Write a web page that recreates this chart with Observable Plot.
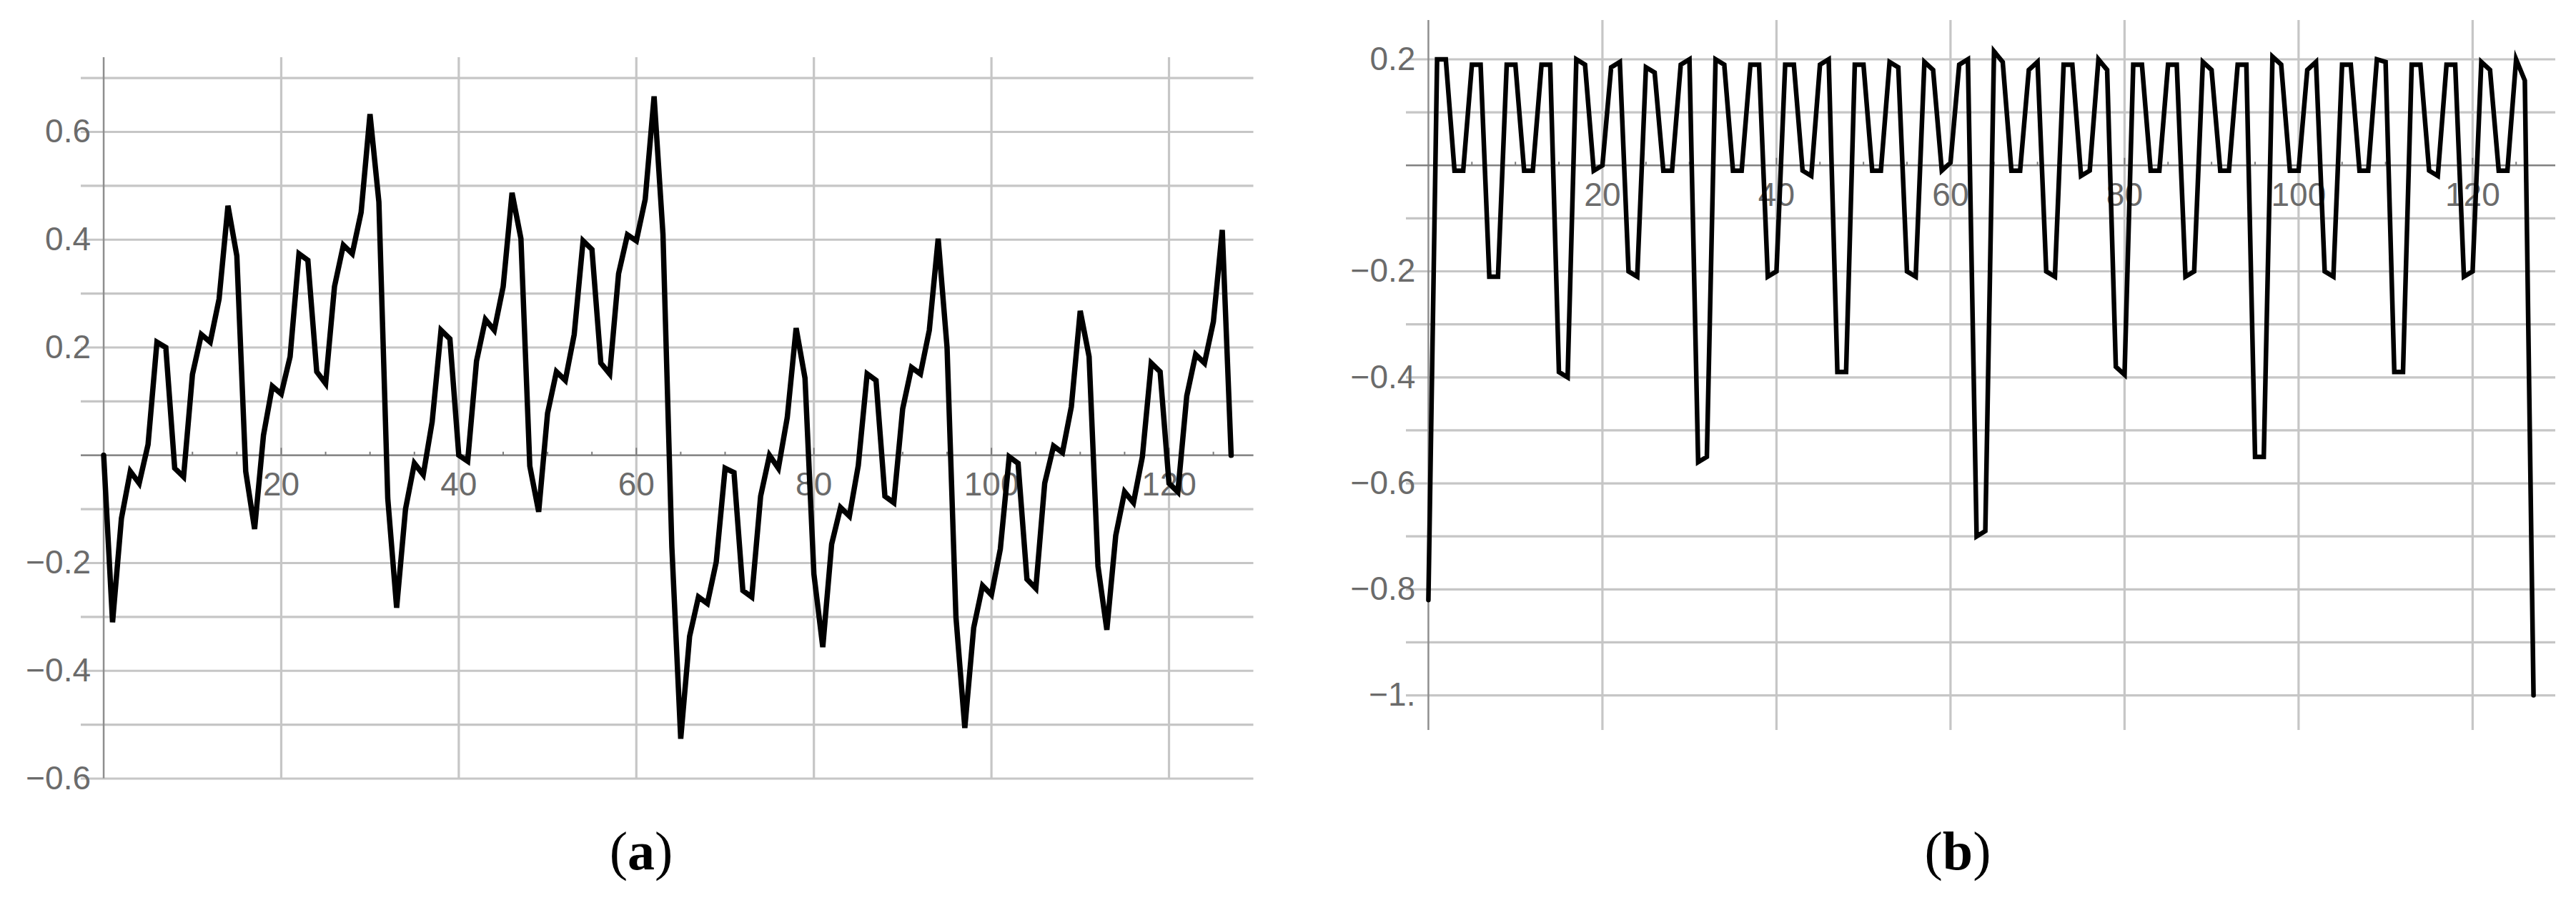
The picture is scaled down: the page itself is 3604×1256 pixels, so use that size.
<!DOCTYPE html>
<html>
<head>
<meta charset="utf-8">
<script src="https://cdn.jsdelivr.net/npm/d3@7"></script>
<script src="https://cdn.jsdelivr.net/npm/@observablehq/plot@0.6"></script>
<style>
  html, body { margin: 0; padding: 0; background: #fff; }
  #page { position: relative; width: 3604px; height: 1256px; overflow: hidden; background: #fff; }
  .panel { position: absolute; top: 0; }
  .cap { position: absolute; width: 300px; text-align: center; font-family: "Liberation Serif", "DejaVu Serif", serif; font-size: 76px; line-height: 76px; color: #000; }
</style>
</head>
<body>
<div id="page">
  <div id="pa" class="panel" style="left:0px; width:1800px"></div>
  <div id="pb" class="panel" style="left:1850px; width:1754px"></div>
  <div class="cap" style="left:747px; top:1152px">(<b>a</b>)</div>
  <div class="cap" style="left:2589px; top:1152px">(<b>b</b>)</div>
</div>
<script>
// ---- data: panel (a), samples 0..127 ----
const seriesA = [
  0, -0.31, -0.117, -0.03, -0.052, 0.02, 0.21, 0.20, -0.024, -0.04,
  0.15, 0.224, 0.21, 0.29, 0.463, 0.37, -0.03, -0.137, 0.037, 0.128,
  0.114, 0.183, 0.374, 0.362, 0.155, 0.133, 0.313, 0.39, 0.374, 0.451,
  0.633, 0.47, -0.08, -0.283, -0.10, -0.015, -0.036, 0.062, 0.232, 0.216,
  0.0, -0.011, 0.175, 0.252, 0.232, 0.313, 0.487, 0.402, -0.02, -0.105,
  0.078, 0.155, 0.139, 0.224, 0.398, 0.382, 0.171, 0.151, 0.337, 0.409,
  0.398, 0.475, 0.666, 0.41, -0.17, -0.526, -0.336, -0.263, -0.275, -0.198,
  -0.024, -0.032, -0.251, -0.263, -0.076, 0.0, -0.024, 0.07, 0.236, 0.143,
  -0.22, -0.356, -0.165, -0.097, -0.113, -0.019, 0.151, 0.139, -0.076, -0.088,
  0.086, 0.163, 0.151, 0.232, 0.402, 0.2, -0.3, -0.506, -0.32, -0.242,
  -0.259, -0.174, -0.003, -0.015, -0.23, -0.247, -0.052, 0.017, 0.005, 0.09,
  0.268, 0.183, -0.206, -0.324, -0.149, -0.068, -0.088, -0.003, 0.171, 0.155,
  -0.052, -0.068, 0.11, 0.187, 0.171, 0.248, 0.418, 0.0
];

// ---- data: panel (b), samples 0..127 ----
const seriesB = [
  -0.82, 0.2, 0.2, -0.01, -0.01, 0.19, 0.19, -0.21, -0.21, 0.19,
  0.19, -0.01, -0.01, 0.19, 0.19, -0.39, -0.40, 0.2, 0.19, -0.01,
  0.0, 0.185, 0.195, -0.2, -0.21, 0.185, 0.175, -0.01, -0.01, 0.19,
  0.2, -0.56, -0.55, 0.2, 0.19, -0.01, -0.01, 0.19, 0.19, -0.21,
  -0.2, 0.19, 0.19, -0.01, -0.02, 0.19, 0.2, -0.39, -0.39, 0.19,
  0.19, -0.01, -0.01, 0.195, 0.185, -0.2, -0.21, 0.195, 0.18, -0.01,
  0.005, 0.19, 0.2, -0.70, -0.69, 0.215, 0.195, -0.01, -0.01, 0.18,
  0.195, -0.2, -0.21, 0.19, 0.19, -0.02, -0.01, 0.2, 0.18, -0.38,
  -0.395, 0.19, 0.19, -0.01, -0.01, 0.19, 0.19, -0.21, -0.2, 0.195,
  0.18, -0.01, -0.01, 0.19, 0.19, -0.55, -0.55, 0.205, 0.19, -0.01,
  -0.01, 0.18, 0.195, -0.2, -0.21, 0.19, 0.19, -0.01, -0.01, 0.2,
  0.195, -0.39, -0.39, 0.19, 0.19, -0.01, -0.02, 0.19, 0.19, -0.21,
  -0.2, 0.195, 0.18, -0.01, -0.01, 0.2, 0.16, -1.0
];

// ---- ticks / labels ----
const xTicks = [20, 40, 60, 80, 100, 120];
const xLabels = ["20", "40", "60", "80", "100", "120"];
const xMinorTicks = [5, 10, 15, 25, 30, 35, 45, 50, 55, 65, 70, 75, 85, 90, 95, 105, 110, 115, 125];

const gridA = [-0.6, -0.5, -0.4, -0.3, -0.2, -0.1, 0, 0.1, 0.2, 0.3, 0.4, 0.5, 0.6, 0.7];
const yTicksA = [-0.6, -0.4, -0.2, 0.2, 0.4, 0.6];
const yLabelsA = ["\u22120.6", "\u22120.4", "\u22120.2", "0.2", "0.4", "0.6"];

const gridB = [-1.0, -0.9, -0.8, -0.7, -0.6, -0.5, -0.4, -0.3, -0.2, -0.1, 0, 0.1, 0.2];
const yTicksB = [-1.0, -0.8, -0.6, -0.4, -0.2, 0.2];
const yLabelsB = ["\u22121.", "\u22120.8", "\u22120.6", "\u22120.4", "\u22120.2", "0.2"];

const xDomain = [-2.54, 129.54];
const labelFont = "Liberation Sans, Arial, Helvetica, sans-serif";
const labelColor = "#6b6b6b";
const gridColor = "#c6c6c6";
const axisColor = "#7c7c7c";

function panel(o) {
  const data = o.values.map((v, i) => ({x: i, y: v}));
  return Plot.plot({
    width: o.width,
    height: o.height,
    marginLeft: o.mL,
    marginRight: o.mR,
    marginTop: o.mT,
    marginBottom: o.mB,
    x: {domain: xDomain, axis: null},
    y: {domain: o.yDomain, axis: null},
    style: {background: "transparent", overflow: "visible"},
    marks: [
      Plot.ruleY(o.grid, {stroke: gridColor, strokeWidth: 3.2}),
      Plot.ruleX(xTicks, {stroke: gridColor, strokeWidth: 3.2}),
      Plot.ruleX([0], {stroke: "#8e8e8e", strokeWidth: 2.5}),
      Plot.ruleY([0], {stroke: axisColor, strokeWidth: 2}),
      Plot.ruleX(xMinorTicks, {x: d => d, y1: 0, y2: o.tick * 0.45, stroke: axisColor, strokeWidth: 2}),
      Plot.ruleX(xTicks, {x: d => d, y1: 0, y2: o.tick, stroke: axisColor, strokeWidth: 2}),
      Plot.text(o.yTicks, {x: 0, y: d => d, text: (d, i) => o.yLabels[i], textAnchor: "end", dx: -18,
        fontSize: 46, fill: labelColor, fontFamily: labelFont}),
      Plot.text(xTicks, {x: d => d, y: 0, text: (d, i) => xLabels[i], textAnchor: "middle", dy: 42,
        fontSize: 46, fill: labelColor, fontFamily: labelFont}),
      Plot.line(data, {x: "x", y: "y", stroke: "#000", strokeWidth: o.sw,
        strokeLinejoin: "miter", strokeMiterlimit: 6, curve: "linear"})
    ]
  });
}

document.getElementById("pa").append(panel({
  values: seriesA, width: 1800, height: 1130,
  mL: 113, mR: 46.5, mT: 80, mB: 41.5,
  yDomain: [-0.6, 0.738], grid: gridA, yTicks: yTicksA, yLabels: yLabelsA,
  tick: 0.0132, sw: 7.5
}));

document.getElementById("pb").append(panel({
  values: seriesB, width: 1754, height: 1130,
  mL: 117, mR: 29, mT: 28, mB: 109,
  yDomain: [-1.066, 0.2735], grid: gridB, yTicks: yTicksB, yLabels: yLabelsB,
  tick: 0.0135, sw: 6.5
}));
</script>
</body>
</html>
